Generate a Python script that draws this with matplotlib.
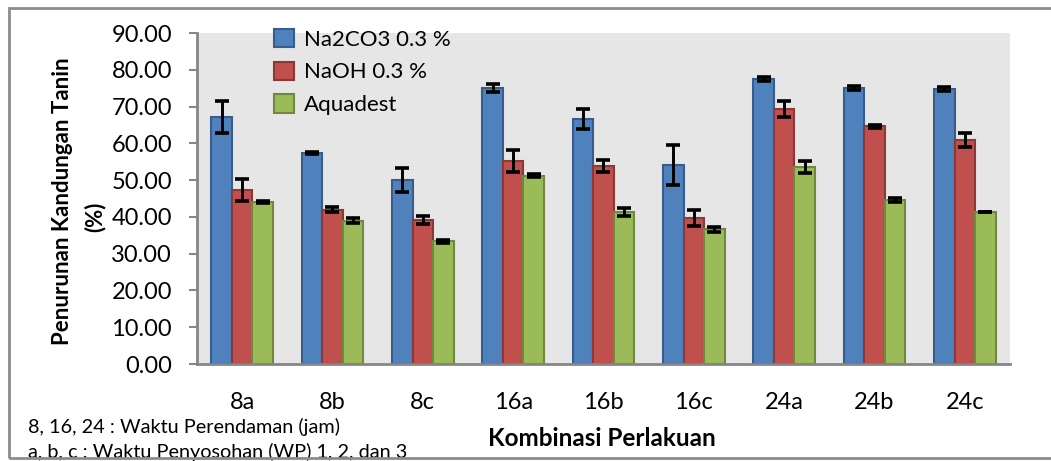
import numpy as np
import matplotlib
matplotlib.use("Agg")
import matplotlib.pyplot as plt
from matplotlib.patches import Rectangle

plt.rcParams['font.family'] = ['Lato', 'DejaVu Sans']

# Data
categories = ["8a", "8b", "8c", "16a", "16b", "16c", "24a", "24b", "24c"]
na2co3 = [67.2, 57.4, 50.0, 75.0, 66.7, 54.1, 77.5, 75.1, 74.7]
na2co3_err = [4.3, 0.2, 3.2, 1.0, 2.7, 5.5, 0.6, 0.5, 0.6]
naoh = [47.3, 41.9, 39.2, 55.3, 53.8, 39.6, 69.3, 64.7, 60.8]
naoh_err = [3.0, 0.7, 1.1, 3.0, 1.6, 2.2, 2.2, 0.4, 1.9]
aquadest = [44.1, 39.0, 33.4, 51.2, 41.3, 36.6, 53.5, 44.6, 41.3]
aquadest_err = [0.3, 0.6, 0.4, 0.4, 1.0, 0.75, 1.7, 0.6, 0.0]

series = [
    ("Na2CO3 0.3 %", na2co3, na2co3_err, "#4F81BD", "#385D8A"),
    ("NaOH 0.3 %", naoh, naoh_err, "#C0504D", "#8C3836"),
    ("Aquadest", aquadest, aquadest_err, "#9BBB59", "#71893F"),
]

fig = plt.figure(figsize=(10.51, 4.61), dpi=100)
ax = fig.add_axes([0.1874, 0.2104, 0.7736, 0.718])
ax.set_facecolor("#E6E6E6")

x = np.arange(len(categories))
w = 0.228
for i, (name, vals, errs, fc, ec) in enumerate(series):
    ax.bar(x + (i - 1) * w, vals, w, color=fc, edgecolor=ec, linewidth=1.5,
           label=name, zorder=2)
    ax.errorbar(x + (i - 1) * w, vals, yerr=errs, fmt="none", ecolor="black",
                elinewidth=2.1, capsize=5, capthick=2.6, zorder=3)

ax.set_xlim(-0.5, len(categories) - 0.5)
ax.set_ylim(0, 90)
ax.set_yticks(np.arange(0, 91, 10))
ax.set_yticklabels(["%.2f" % v for v in np.arange(0, 91, 10)], fontsize=17)
ax.set_xticks(x)
ax.set_xticklabels(categories, fontsize=17)
ax.tick_params(axis="x", length=0, pad=20)
ax.tick_params(axis="y", length=6, width=1.5, color="#868686", pad=12)

for s in ["top", "right"]:
    ax.spines[s].set_visible(False)
for s in ["left", "bottom"]:
    ax.spines[s].set_color("#868686")
    ax.spines[s].set_linewidth(2)

fig.text(63 / 1051, 1 - 201 / 461, "Penurunan Kandungan Tanin", rotation=90,
         fontsize=16, fontweight="bold", ha="center", va="center")
fig.text(95 / 1051, 1 - 217 / 461, "(%)", rotation=90,
         fontsize=16, fontweight="bold", ha="center", va="center")
fig.text(602 / 1051, 1 - 438 / 461, "Kombinasi Perlakuan",
         fontsize=17.5, fontweight="bold", ha="center", va="center")

fig.text(28 / 1051, 1 - 427 / 461, "8, 16, 24 : Waktu Perendaman (jam)",
         fontsize=14.3, ha="left", va="center")
fig.text(28 / 1051, 1 - 452 / 461, "a, b, c : Waktu Penyosohan (WP) 1, 2, dan 3",
         fontsize=14.3, ha="left", va="center")

# outer chart frame
fig.patches.append(Rectangle((9 / 1051, 1 - 458 / 461), 1.1, 450 / 461,
                             transform=fig.transFigure, fill=False,
                             edgecolor="#8C8C8C", linewidth=2, zorder=5))

leg = ax.legend(loc="upper left", bbox_to_anchor=(265 / 1051, 1 - 20 / 461),
                bbox_transform=fig.transFigure, frameon=False, fontsize=16,
                handlelength=0.9, handleheight=0.9, handletextpad=0.45,
                labelspacing=0.53, borderaxespad=0)

fig.savefig("out.png", dpi=100)
